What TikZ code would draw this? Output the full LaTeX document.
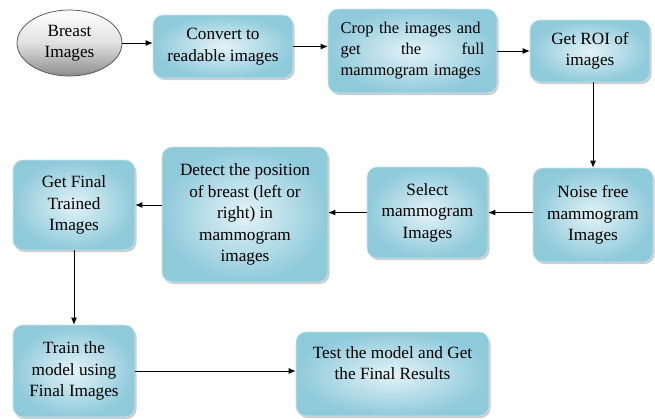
\documentclass[tikz,border=0pt]{standalone}
\usepackage{fontspec}
\setmainfont{Liberation Serif}
\newfontfamily\boxfont{Liberation Serif}
\usetikzlibrary{shapes.geometric,shadows,arrows.meta}
\definecolor{boxout}{HTML}{8FCADB}
\definecolor{boxin}{HTML}{E4F2F7}
\definecolor{boxline}{HTML}{C8E6EF}
\tikzset{
  box/.style={rectangle, rounded corners=10pt, draw=boxline, line width=0.6pt,
    inner color=boxin, outer color=boxout, inner sep=2pt, align=center,
    font=\boxfont\fontsize{17.2}{21.5}\selectfont,
    drop shadow={shadow xshift=1.5pt, shadow yshift=-2pt, fill=black!45, opacity=0.45}},
  startnode/.style={ellipse, draw=black!70, line width=0.7pt, top color=white, bottom color=black!45,
    middle color=black!12, align=center, font=\boxfont\fontsize{17.2}{21.5}\selectfont, inner sep=0pt},
  conn/.style={draw=black, line width=0.9pt, -{Latex[length=7pt,width=6pt]}}
}
\begin{document}
\begin{tikzpicture}[x=1pt,y=-1pt]
\useasboundingbox (0,0) rectangle (655,418);
\node[startnode, minimum width=105pt, minimum height=66pt] (s) at (69.5,43) {Breast\\Images};
\node[box, minimum width=140pt, minimum height=63pt] (b2) at (223,46.5) {Convert to\\readable images};
\node[box, minimum width=169pt, minimum height=84pt, text width=144pt, align=left, font=\boxfont\fontsize{16.5}{21}\selectfont] (b3) at (412.5,51) {Crop the images and\\get\hfill the\hfill full\\mammogram images};
\node[box, minimum width=120pt, minimum height=62pt] (b4) at (590,51) {Get ROI of\\images};
\node[box, minimum width=120pt, minimum height=94pt] (b5) at (593,215) {Noise free\\mammogram\\Images};
\node[box, minimum width=121pt, minimum height=91pt] (b6) at (427.5,212.5) {Select\\mammogram\\Images};
\node[box, minimum width=166pt, minimum height=135pt] (b7) at (245,214.5) {Detect the position\\of breast (left or\\right) in\\mammogram\\images};
\node[box, minimum width=122pt, minimum height=90pt] (b8) at (74,205) {Get Final\\Trained\\Images};
\node[box, minimum width=122pt, minimum height=92pt] (b9) at (74,371) {Train the\\model using\\Final Images};
\node[box, minimum width=193pt, minimum height=84pt] (b10) at (392.5,374) {Test the model and Get\\the Final Results\\\mbox{}};
\draw[conn] (s.east) -- (b2.west|-s.east);
\draw[conn] (b2.east) -- (b3.west|-b2.east);
\draw[conn] (b3.east|-b4.west) -- (b4.west);
\draw[conn] (b5.north|-b4.south) -- (b5.north);
\draw[conn] (b5.west|-b6.east) -- (b6.east);
\draw[conn] (b6.west) -- (b7.east|-b6.west);
\draw[conn] (b7.west|-b8.east) -- (b8.east);
\draw[conn] (b8.south) -- (b9.north);
\draw[conn] (b9.east) -- (b10.west|-b9.east);
\end{tikzpicture}
\end{document}
